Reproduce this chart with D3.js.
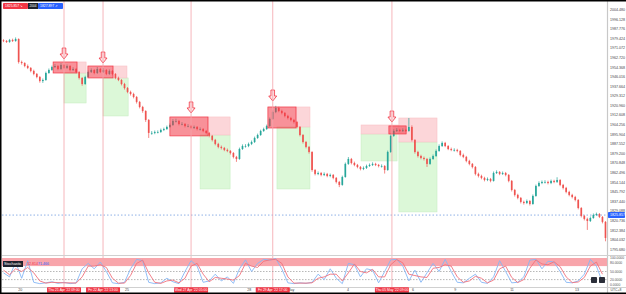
<!DOCTYPE html>
<html>
<head>
<meta charset="utf-8">
<script src="https://cdn.jsdelivr.net/npm/d3@7"></script>
<style>
  html, body { margin: 0; padding: 0; background: #fff; }
  svg { display: block; font-family: "Liberation Sans", Arial, sans-serif; }
</style>
</head>
<body>
<svg id="chart"></svg>
<script>
// candles, one per slot (open = previous close)
const firstOpen = 1978.0;
const closes = [
  1977.5,1976.6,1978.4,1977.5,1979.2,1959.2,1958.3,1955.7,1954.0,1951.4,
  1948.8,1946.1,1942.6,1943.5,1949.6,1952.2,1954.8,1955.7,1953.1,1956.6,
  1954.0,1955.7,1952.2,1953.1,1950.5,1945.3,1940.0,1946.1,1950.5,1952.2,
  1949.6,1953.1,1950.5,1952.2,1948.8,1951.4,1948.8,1945.3,1943.5,1940.0,
  1936.5,1933.1,1931.3,1928.7,1924.4,1920.0,1916.5,1908.7,1897.4,1897.4,
  1898.2,1898.2,1900.0,1900.8,1902.6,1904.3,1907.8,1907.8,1905.2,1905.2,
  1903.4,1903.4,1901.7,1902.6,1900.8,1900.8,1899.1,1897.4,1894.8,1891.3,
  1887.8,1885.2,1884.3,1882.6,1881.7,1879.9,1876.5,1874.7,1883.4,1886.0,
  1886.0,1887.8,1889.5,1893.0,1895.6,1899.1,1900.8,1903.4,1909.6,1915.6,
  1919.1,1916.5,1914.8,1912.2,1910.4,1908.7,1906.9,1902.6,1895.6,1889.5,
  1885.2,1880.8,1865.1,1861.7,1862.5,1860.8,1861.7,1859.9,1860.8,1858.2,
  1854.7,1852.1,1859.0,1870.4,1874.7,1871.2,1869.5,1867.7,1866.0,1866.9,
  1868.6,1869.5,1870.4,1869.5,1868.6,1868.6,1865.1,1880.8,1894.8,1899.1,
  1900.0,1899.1,1900.0,1899.1,1902.6,1891.3,1880.8,1877.3,1875.6,1874.7,
  1870.4,1874.7,1877.3,1881.7,1886.0,1888.7,1886.0,1883.4,1882.6,1882.6,
  1881.7,1878.2,1876.5,1873.0,1870.4,1867.7,1861.7,1859.9,1858.2,1856.4,
  1857.3,1855.6,1862.5,1863.4,1861.7,1862.5,1860.8,1855.6,1847.7,1843.4,
  1840.8,1837.3,1836.4,1838.1,1835.5,1842.5,1851.2,1853.8,1854.7,1854.7,
  1853.8,1855.6,1854.7,1856.4,1852.1,1849.5,1846.0,1843.4,1841.6,1839.0,
  1832.0,1825.1,1822.5,1820.7,1823.3,1825.9,1826.8,1824.2,1819.9,1805.9
];
const highs = [
  1979.0,1978.3,1979.3,1979.5,1980.6,1979.8,1960.4,1959.0,1957.0,1954.8,
  1952.5,1949.6,1947.0,1944.8,1950.8,1953.5,1956.0,1957.4,1956.6,1958.2,
  1957.5,1957.0,1956.5,1954.6,1953.9,1951.2,1946.0,1947.2,1951.8,1953.6,
  1953.0,1954.8,1954.0,1953.8,1953.0,1952.7,1952.2,1949.5,1946.4,1944.3,
  1941.0,1937.4,1934.2,1932.4,1929.6,1925.3,1921.0,1917.2,1909.5,1899.0,
  1899.5,1899.6,1901.2,1902.0,1903.8,1905.6,1909.4,1909.8,1908.8,1906.8,
  1906.0,1905.0,1904.4,1903.8,1903.4,1902.2,1901.6,1900.0,1898.3,1895.6,
  1892.2,1888.8,1886.4,1885.2,1883.8,1882.5,1880.7,1877.4,1884.6,1887.4,
  1887.6,1889.0,1890.8,1894.2,1896.8,1900.2,1902.0,1904.6,1910.8,1917.0,
  1921.0,1920.2,1917.6,1915.6,1913.2,1911.4,1909.6,1907.8,1903.4,1896.4,
  1890.4,1886.0,1881.5,1866.0,1863.8,1863.4,1863.0,1862.6,1862.0,1861.6,
  1859.0,1855.6,1860.2,1871.6,1876.4,1875.6,1872.4,1870.4,1868.6,1868.2,
  1869.8,1870.8,1871.8,1871.4,1870.4,1870.0,1869.4,1882.0,1896.0,1900.6,
  1901.6,1901.0,1901.4,1901.0,1910.4,1904.0,1892.0,1881.8,1878.4,1876.8,
  1875.6,1876.0,1878.6,1883.0,1887.4,1890.0,1889.6,1886.8,1884.6,1884.0,
  1883.6,1882.5,1879.4,1877.4,1874.0,1871.2,1868.6,1862.8,1861.0,1859.2,
  1858.6,1858.2,1863.8,1864.8,1864.2,1863.8,1863.4,1861.6,1856.4,1848.6,
  1844.4,1841.6,1838.4,1839.4,1839.0,1843.8,1852.4,1855.2,1856.0,1856.2,
  1855.8,1856.8,1856.6,1858.8,1857.2,1853.0,1850.4,1847.0,1844.4,1842.6,
  1839.8,1832.8,1826.0,1823.6,1824.6,1827.2,1828.0,1827.6,1825.0,1820.6
];
const lows = [
  1976.5,1975.8,1975.9,1976.6,1976.8,1957.8,1956.9,1954.6,1953.0,1950.2,
  1947.6,1945.0,1941.2,1941.0,1942.8,1948.9,1951.5,1953.9,1952.0,1952.3,
  1953.0,1953.2,1951.0,1951.3,1949.4,1944.0,1938.5,1939.3,1945.5,1949.6,
  1948.5,1948.8,1949.5,1949.6,1947.7,1948.0,1947.6,1944.2,1942.5,1938.8,
  1935.2,1932.0,1930.0,1927.5,1923.0,1918.8,1915.0,1907.0,1893.0,1895.8,
  1896.3,1897.0,1897.4,1899.0,1900.0,1901.8,1903.5,1906.5,1904.0,1904.0,
  1902.2,1902.3,1900.6,1900.8,1899.6,1899.5,1898.0,1896.2,1893.6,1890.0,
  1886.6,1884.0,1883.0,1881.5,1880.6,1878.6,1875.2,1872.2,1874.0,1882.6,
  1884.6,1885.0,1886.8,1888.6,1892.2,1894.8,1898.3,1900.0,1902.6,1908.8,
  1914.6,1915.4,1913.6,1911.0,1909.2,1907.5,1905.6,1901.4,1894.4,1888.2,
  1884.0,1879.4,1863.6,1860.4,1860.6,1859.6,1859.8,1858.8,1858.8,1857.0,
  1853.4,1850.2,1851.4,1858.4,1869.6,1870.0,1868.4,1866.6,1864.8,1865.0,
  1866.0,1867.8,1868.6,1868.5,1867.4,1867.2,1862.0,1864.4,1880.0,1894.0,
  1898.2,1898.0,1898.2,1898.0,1898.4,1890.0,1879.4,1876.0,1874.4,1873.4,
  1867.8,1869.6,1874.0,1876.5,1881.0,1885.2,1885.0,1882.4,1881.5,1881.2,
  1880.5,1877.0,1875.4,1871.8,1869.2,1866.5,1860.4,1858.6,1857.0,1855.2,
  1855.4,1854.4,1855.0,1861.6,1860.6,1860.8,1859.6,1854.4,1846.4,1842.0,
  1839.6,1836.0,1835.0,1835.4,1834.2,1834.8,1841.8,1850.4,1852.8,1853.4,
  1852.6,1852.8,1853.6,1853.8,1851.0,1848.2,1844.8,1842.2,1840.4,1837.8,
  1830.8,1823.8,1821.2,1812.9,1819.8,1822.6,1825.0,1823.2,1818.6,1803.0
];

// stochastic, one point every second slot
const stochK = [
  45,30,85,25,90,10,5,8,12,6, 10,5,8,60,80,60,85,50,8,5,
  10,60,95,90,10,5,8,25,12,5, 50,90,70,10,15,40,15,30,6,60,
  93,50,80,95,92,98,60,8,5,8, 6,10,40,20,60,25,5,80,75,30,
  60,55,8,50,93,95,70,15,55,10, 45,80,50,95,50,10,8,25,40,10,
  6,30,90,50,8,10,30,92,95,60, 88,85,50,10,8,15,40,95,70,10
];
const stochD = [
  55,38,60,50,65,45,15,7,10,9, 8,8,7,30,70,70,75,65,25,7,
  7,35,80,92,45,10,6,15,18,8, 25,70,80,40,12,28,25,22,18,35,
  80,70,65,88,93,95,80,30,7,7, 7,8,25,30,40,40,15,45,78,50,
  45,58,30,30,75,94,82,40,35,30, 28,62,65,75,70,30,10,15,32,25,
  8,18,60,70,28,9,20,62,93,78, 75,86,68,30,9,11,28,70,85,40
];
const stochLevels = [50, 20];
const stochBand = [70, 100];

// axes
const priceTicks = [
  2004.480,1996.128,1987.776,1979.424,1971.072,1962.720,1954.368,1946.016,
  1937.664,1929.312,1920.960,1912.608,1904.256,1895.904,1887.552,1879.200,
  1870.848,1862.496,1854.144,1845.792,1837.440,1829.088,1820.736,1812.384,
  1804.032,1795.680
];
const stochTicks = ["100.0000", "80.0000", "50.0000", "20.0000", "0.0000"];
const stochTickValues = [100, 80, 50, 20, 0];
const timeLabels = ["20", "25", "28", "May", "4", "6", "9", "11", "13"];
const timeSlots = [6.0, 41.3, 81.7, 95.5, 114.4, 135.9, 149.8, 168.6, 190.1];

const currentPrice = 1825.85;
const currentLabel = "1825.857";

// signal events
const eventSlots = [20.5, 33.4, 62.5, 89.5, 128.9];
const eventLabels = ["Thu 21 Apr '22 09:00", "Fri 22 Apr '22 13:00", "Wed 27 Apr '22 05:00",
  "Fri 29 Apr '22 17:00", "Thu 05 May '22 09:00"];
const arrowTips = [1961.8, 1958.3, 1914.8, 1925.2, 1906.9];

// zones: [slotStart, slotEnd, priceTop, priceBottom]
const pinkZones = [
  [24.8, 27.8, 1959.2, 1949.6],
  [36.7, 41.3, 1955.7, 1945.3],
  [68.1, 75.4, 1911.3, 1895.6],
  [97.2, 101.8, 1920.0, 1902.6],
  [118.7, 131.6, 1904.3, 1896.5],
  [131.2, 143.8, 1910.4, 1889.5]
];
const greenZones = [
  [20.5, 27.8, 1949.6, 1923.5],
  [33.4, 41.7, 1945.3, 1912.2],
  [65.5, 75.4, 1895.6, 1848.6],
  [90.9, 101.8, 1902.6, 1848.6],
  [118.7, 130.6, 1896.5, 1873.0],
  [131.2, 143.8, 1889.5, 1828.6]
];
const redZones = [
  [16.9, 24.8, 1959.2, 1949.6],
  [28.4, 36.7, 1955.7, 1945.3],
  [55.5, 68.1, 1911.3, 1894.8],
  [87.9, 97.2, 1920.0, 1901.7],
  [127.9, 133.6, 1903.5, 1896.5]
];

const width = 626;
const height = 294;
const plotRight = 607;
const mainTop = 2, mainBottom = 255;
const stochTop = 256, stochBottom = 287;

const UP = "#26a69a";
const DOWN = "#ef5350";

function drawChart() {
    const svg = d3.select("#chart")
        .attr("width", width)
        .attr("height", height);

    svg.append("rect").attr("width", width).attr("height", height).attr("fill", "#fff");

    const x = d3.scaleLinear().domain([0, closes.length]).range([2, plotRight]);
    const y = d3.scaleLinear().domain([1795.68, 2004.48]).range([249.7, 10]);
    const ys = d3.scaleLinear().domain([0, 100]).range([285, 258]);

    const candles = closes.map((c, i) => ({
        i: i,
        open: i === 0 ? firstOpen : closes[i - 1],
        close: c,
        high: highs[i],
        low: lows[i]
    }));

    // clip for the main pane
    svg.append("clipPath").attr("id", "main-clip")
        .append("rect").attr("x", 2).attr("y", mainTop).attr("width", plotRight - 2).attr("height", mainBottom - mainTop);

    const main = svg.append("g").attr("clip-path", "url(#main-clip)");

    //event lines through both panes
    svg.append("g").selectAll("line")
        .data(eventSlots)
        .enter()
        .append("line")
        .attr("x1", d => x(d)).attr("x2", d => x(d))
        .attr("y1", 0).attr("y2", stochBottom)
        .attr("stroke", "#f4a3aa")
        .attr("stroke-width", 0.8);

    //zones
    const zone = (data, fill, stroke) => {
        main.append("g").selectAll("rect")
            .data(data)
            .enter()
            .append("rect")
            .attr("x", d => x(d[0]))
            .attr("y", d => y(d[2]))
            .attr("width", d => x(d[1]) - x(d[0]))
            .attr("height", d => y(d[3]) - y(d[2]))
            .attr("fill", fill)
            .attr("stroke", stroke)
            .attr("stroke-width", 0.6);
    };
    zone(greenZones, "#dcf8d8", "#c9eec4");
    zone(pinkZones, "#fcd6d9", "#f9c2c6");

    //current price dotted line
    main.append("line")
        .attr("x1", 2).attr("x2", plotRight)
        .attr("y1", y(currentPrice)).attr("y2", y(currentPrice))
        .attr("stroke", "#8fb0e6")
        .attr("stroke-width", 1)
        .attr("stroke-dasharray", "1.5,2");

    //candles
    const bw = (x(1) - x(0)) * 0.55;
    main.append("g").selectAll("line")
        .data(candles)
        .enter()
        .append("line")
        .attr("x1", d => x(d.i + 0.5)).attr("x2", d => x(d.i + 0.5))
        .attr("y1", d => y(d.high)).attr("y2", d => y(d.low))
        .attr("stroke", d => d.close >= d.open ? UP : DOWN)
        .attr("stroke-width", 0.7);
    main.append("g").selectAll("rect")
        .data(candles)
        .enter()
        .append("rect")
        .attr("x", d => x(d.i + 0.5) - bw / 2)
        .attr("y", d => y(Math.max(d.open, d.close)))
        .attr("width", bw)
        .attr("height", d => Math.max(0.7, Math.abs(y(d.open) - y(d.close))))
        .attr("fill", d => d.close >= d.open ? UP : DOWN);

    //red entry zones over candles
    main.append("g").selectAll("rect")
        .data(redZones)
        .enter()
        .append("rect")
        .attr("x", d => x(d[0]))
        .attr("y", d => y(d[2]))
        .attr("width", d => x(d[1]) - x(d[0]))
        .attr("height", d => y(d[3]) - y(d[2]))
        .attr("fill", "rgba(242,54,69,0.55)")
        .attr("stroke", "#f23645")
        .attr("stroke-width", 0.7);

    //arrows
    main.append("g").selectAll("path")
        .data(eventSlots.map((s, i) => ({ s: s, p: arrowTips[i] })))
        .enter()
        .append("path")
        .attr("transform", d => `translate(${x(d.s)},${y(d.p) - 11})`)
        .attr("d", "M-1.8,0 L1.8,0 L1.8,6 L4,6 L0,11 L-4,6 L-1.8,6 Z")
        .attr("fill", "#fde3e5")
        .attr("stroke", "#f23645")
        .attr("stroke-width", 0.8);

    //price axis
    svg.append("line")
        .attr("x1", plotRight + 0.5).attr("x2", plotRight + 0.5)
        .attr("y1", 0).attr("y2", height)
        .attr("stroke", "#c8c8c8").attr("stroke-width", 1.2);

    svg.append("g").selectAll("text")
        .data(priceTicks)
        .enter()
        .append("text")
        .attr("x", 610)
        .attr("y", d => y(d))
        .attr("dominant-baseline", "central")
        .style("font-size", "3.6px")
        .style("fill", "#444")
        .text(d => d3.format(".3f")(d));

    svg.append("rect")
        .attr("x", 608).attr("y", y(currentPrice) - 3)
        .attr("width", 17).attr("height", 6)
        .attr("rx", 0.8)
        .attr("fill", "#2962ff");
    svg.append("text")
        .attr("x", 610).attr("y", y(currentPrice))
        .attr("dominant-baseline", "central")
        .style("font-size", "3.6px")
        .style("fill", "#fff")
        .text(currentLabel);

    //stochastic pane
    svg.append("line")
        .attr("x1", 2).attr("x2", width)
        .attr("y1", stochTop - 0.5).attr("y2", stochTop - 0.5)
        .attr("stroke", "#d0d0d0").attr("stroke-width", 1);

    svg.append("rect")
        .attr("x", 2).attr("y", ys(stochBand[1]))
        .attr("width", plotRight - 2)
        .attr("height", ys(stochBand[0]) - ys(stochBand[1]))
        .attr("fill", "#f8a5ab");

    svg.append("g").selectAll("line")
        .data(stochLevels)
        .enter()
        .append("line")
        .attr("x1", 2).attr("x2", plotRight)
        .attr("y1", d => ys(d)).attr("y2", d => ys(d))
        .attr("stroke", "#9a9a9a")
        .attr("stroke-width", 0.7)
        .attr("stroke-dasharray", "1.5,1.5");

    const stochLine = d3.line()
        .x((d, i) => x(i * 2 + 0.5))
        .y(d => ys(d));

    svg.append("path")
        .datum(stochK)
        .attr("d", stochLine)
        .attr("fill", "none")
        .attr("stroke", "#86b7f5")
        .attr("stroke-width", 0.9);
    svg.append("path")
        .datum(stochD)
        .attr("d", stochLine)
        .attr("fill", "none")
        .attr("stroke", "#f0727d")
        .attr("stroke-width", 0.9);

    svg.append("rect")
        .attr("x", 3).attr("y", 261).attr("width", 20).attr("height", 6)
        .attr("fill", "#1e222d");
    svg.append("text")
        .attr("x", 4).attr("y", 264.2).attr("dominant-baseline", "central")
        .style("font-size", "3.8px").style("fill", "#fff")
        .text("Stochastic");
    svg.append("text")
        .attr("x", 27).attr("y", 264.2).attr("dominant-baseline", "central")
        .style("font-size", "3.6px").style("fill", "#f23645")
        .text("32.814");
    svg.append("text")
        .attr("x", 38).attr("y", 264.2).attr("dominant-baseline", "central")
        .style("font-size", "3.6px").style("fill", "#2962ff")
        .text("71.466");

    svg.append("g").selectAll("text")
        .data(stochTickValues)
        .enter()
        .append("text")
        .attr("x", 610)
        .attr("y", d => ys(d))
        .attr("dominant-baseline", "central")
        .style("font-size", "3.4px")
        .style("fill", "#555")
        .text((d, i) => stochTicks[i]);

    //little buttons in the stochastic pane
    svg.append("g").selectAll("rect")
        .data([591, 599])
        .enter()
        .append("rect")
        .attr("x", d => d).attr("y", 277).attr("width", 6).attr("height", 6)
        .attr("rx", 0.8)
        .attr("fill", "#2a2e39");

    //time axis
    svg.append("line")
        .attr("x1", 2).attr("x2", width)
        .attr("y1", stochBottom + 0.5).attr("y2", stochBottom + 0.5)
        .attr("stroke", "#d0d0d0").attr("stroke-width", 1);

    svg.append("g").selectAll("text")
        .data(timeLabels)
        .enter()
        .append("text")
        .attr("x", (d, i) => x(timeSlots[i]))
        .attr("y", 290)
        .attr("text-anchor", "middle")
        .attr("dominant-baseline", "central")
        .style("font-size", "3.6px")
        .style("fill", "#444")
        .text(d => d);

    svg.append("text")
        .attr("x", 616).attr("y", 290)
        .attr("text-anchor", "middle").attr("dominant-baseline", "central")
        .style("font-size", "3.4px").style("fill", "#444")
        .text("UTC+8");

    const dateBoxes = svg.append("g").selectAll("g")
        .data(eventSlots.map((s, i) => ({ s: s, label: eventLabels[i] })))
        .enter()
        .append("g")
        .attr("transform", d => `translate(${x(d.s)},290)`);
    dateBoxes.append("rect")
        .attr("x", -17).attr("y", -2.8).attr("width", 34).attr("height", 5.6)
        .attr("rx", 0.6)
        .attr("fill", "#f23645");
    dateBoxes.append("text")
        .attr("text-anchor", "middle").attr("dominant-baseline", "central")
        .style("font-size", "3.4px").style("fill", "#fff")
        .text(d => d.label);

    //trade buttons top left
    svg.append("rect").attr("x", 3).attr("y", 3).attr("width", 25).attr("height", 6).attr("rx", 0.8).attr("fill", "#f23645");
    svg.append("rect").attr("x", 28).attr("y", 3).attr("width", 10).attr("height", 6).attr("fill", "#1e222d");
    svg.append("rect").attr("x", 38).attr("y", 3).attr("width", 25).attr("height", 6).attr("rx", 0.8).attr("fill", "#2962ff");
    svg.append("text").attr("x", 5).attr("y", 6.2).attr("dominant-baseline", "central")
        .style("font-size", "3.4px").style("fill", "#fff").text("1825.857 ↘");
    svg.append("text").attr("x", 33).attr("y", 6.2).attr("text-anchor", "middle").attr("dominant-baseline", "central")
        .style("font-size", "3.2px").style("fill", "#fff").text("2004");
    svg.append("text").attr("x", 40).attr("y", 6.2).attr("dominant-baseline", "central")
        .style("font-size", "3.4px").style("fill", "#fff").text("1827.897 ↗");

    //frame
    svg.append("rect")
        .attr("x", 0.75).attr("y", 0.75)
        .attr("width", width + 4).attr("height", height - 1.5)
        .attr("fill", "none")
        .attr("stroke", "#000")
        .attr("stroke-width", 1.5);
}

drawChart();
</script>
</body>
</html>
